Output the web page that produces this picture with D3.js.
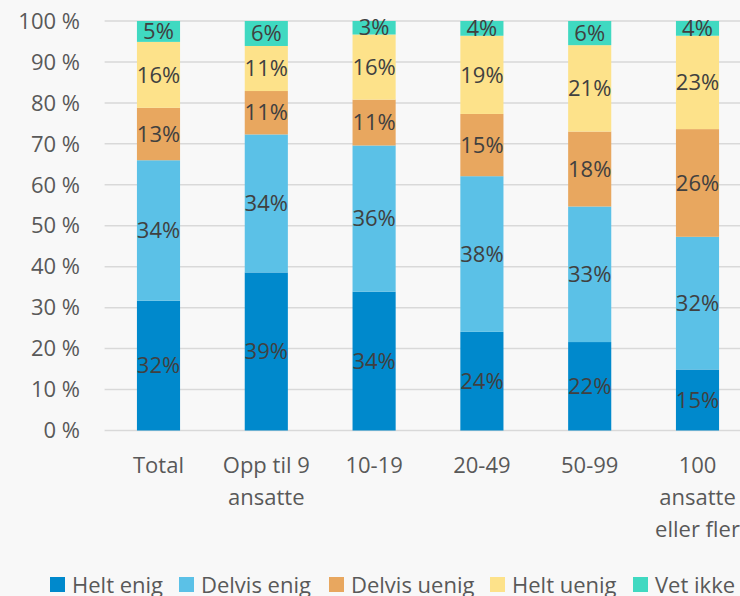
<!DOCTYPE html>
<html>
<head>
<meta charset="utf-8">
<script src="https://cdn.jsdelivr.net/npm/d3@7"></script>
<style>
  html, body { margin: 0; padding: 0; background: #f8f8f8; }
  svg { display: block; font-family: "Open Sans", "Noto Sans", sans-serif; }
</style>
</head>
<body>
<div id="chart"></div>
<script>
// categories (x axis), each label split in lines
const categories = ["Total", "Opp til 9 ansatte", "10-19", "20-49", "50-99", "100 ansatte eller fler"];
const catLines = [["Total"], ["Opp til 9", "ansatte"], ["10-19"], ["20-49"], ["50-99"], ["100", "ansatte", "eller fler"]];

// series, percent per category
const seriesNames = ["Helt enig", "Delvis enig", "Delvis uenig", "Helt uenig", "Vet ikke"];
const heltEnig    = [31.7, 38.6, 33.9, 24.1, 21.6, 14.9];
const delvisEnig  = [34.3, 33.7, 35.7, 38.0, 33.1, 32.4];
const delvisUenig = [12.8, 10.6, 11.2, 15.2, 18.3, 26.3];
const heltUenig   = [16.1, 11.0, 15.9, 19.1, 21.1, 22.8];
const vetIkke     = [5.1, 6.1, 3.3, 3.6, 5.9, 3.6];

const yTicks = [0, 10, 20, 30, 40, 50, 60, 70, 80, 90, 100];
const colors = ["#0089cc", "#5bc1e7", "#e8a75f", "#fde28a", "#40d9c1"];

const width = 740, height = 596;
const margin = {top: 21, left: 104.6, bottom: 165.5};
const fs = "22px";

// table for stacking
const keys = ["heltEnig", "delvisEnig", "delvisUenig", "heltUenig", "vetIkke"];
const allSeries = [heltEnig, delvisEnig, delvisUenig, heltUenig, vetIkke];
const table = categories.map((c, i) => {
  const row = {cat: c};
  keys.forEach((k, j) => row[k] = allSeries[j][i]);
  return row;
});
const stacked = d3.stack().keys(keys)(table);

const svg = d3.select("#chart").append("svg")
  .attr("width", width).attr("height", height);

const x = d3.scaleBand()
  .domain(categories)
  .range([margin.left, margin.left + 6 * 107.8])
  .paddingInner(0.6)
  .paddingOuter(0.3);

const y = d3.scaleLinear()
  .domain([0, 100])
  .range([height - margin.bottom, margin.top]);

// gridlines
svg.append("g")
  .selectAll("line")
  .data(yTicks)
  .join("line")
  .attr("x1", margin.left).attr("x2", width)
  .attr("y1", d => y(d)).attr("y2", d => y(d))
  .attr("stroke", "#d9d9d9")
  .attr("stroke-width", 1.5);

// y tick labels
svg.append("g")
  .selectAll("text")
  .data(yTicks)
  .join("text")
  .attr("x", 80)
  .attr("y", d => y(d))
  .attr("dy", "0.35em")
  .attr("text-anchor", "end")
  .attr("fill", "#595959")
  .style("font-size", fs)
  .text(d => d + " %");

// bars
const layers = svg.append("g")
  .selectAll("g")
  .data(stacked)
  .join("g")
  .attr("fill", (d, i) => colors[i]);

layers.selectAll("rect")
  .data(d => d)
  .join("rect")
  .attr("x", d => x(d.data.cat))
  .attr("width", x.bandwidth())
  .attr("y", d => y(d[1]))
  .attr("height", d => y(d[0]) - y(d[1]));

// data labels
layers.selectAll("text")
  .data(d => d)
  .join("text")
  .attr("x", d => x(d.data.cat) + x.bandwidth() / 2)
  .attr("y", d => (y(d[0]) + y(d[1])) / 2)
  .attr("dy", "0.35em")
  .attr("text-anchor", "middle")
  .attr("fill", "#404040")
  .style("font-size", fs)
  .text(d => Math.round(d[1] - d[0]) + "%");

// x labels
const xl = svg.append("g")
  .selectAll("text")
  .data(categories)
  .join("text")
  .attr("x", d => x(d) + x.bandwidth() / 2)
  .attr("y", 473)
  .attr("text-anchor", "middle")
  .attr("fill", "#595959")
  .style("font-size", fs);
xl.selectAll("tspan")
  .data((d, i) => catLines[i])
  .join("tspan")
  .attr("x", function() { return this.parentNode.getAttribute("x"); })
  .attr("dy", (d, i) => i === 0 ? 0 : 32)
  .text(d => d);

// legend
const legendX = [50, 179, 329, 490, 633];
const lg = svg.append("g")
  .selectAll("g")
  .data(seriesNames)
  .join("g")
  .attr("transform", (d, i) => `translate(${legendX[i]},577)`);
lg.append("rect")
  .attr("width", 15).attr("height", 15)
  .attr("fill", (d, i) => colors[i]);
lg.append("text")
  .attr("x", 22).attr("y", 8)
  .attr("dy", "0.35em")
  .attr("fill", "#595959")
  .style("font-size", fs)
  .text(d => d);
</script>
</body>
</html>
